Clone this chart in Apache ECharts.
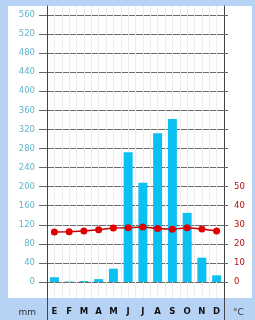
<!DOCTYPE html>
<html>
<head>
<meta charset="utf-8">
<script src="https://cdn.jsdelivr.net/npm/echarts@6/dist/echarts.min.js"></script>
<style>
  html, body { margin: 0; padding: 0; }
  body { width: 255px; height: 320px; background: #b6d3f5; position: relative; overflow: hidden; }
  #paper { position: absolute; left: 8px; top: 6px; width: 244px; height: 292px; background: #fff; }
  #main { position: absolute; left: 0; top: 0; width: 255px; height: 320px; }
</style>
</head>
<body>
<div id="paper"></div>
<div id="main"></div>
<script>
// climograma: precipitacion (mm) y temperatura (°C)
var months = ['E', 'F', 'M', 'A', 'M', 'J', 'J', 'A', 'S', 'O', 'N', 'D'];
var rain = [10, 1, 2, 6, 28, 272, 208, 312, 342, 145, 51, 14];
var temp = [26.2, 26.4, 26.7, 27.4, 28.3, 28.5, 28.8, 28.0, 27.6, 28.5, 27.8, 26.7];

var rainMax = 560, rainStep = 40;
var tempMax = 140, tempStep = 10, tempShown = 50;

var font = 'DejaVu Sans, Verdana, sans-serif';

var myChart = echarts.init(document.getElementById('main'), null, { renderer: 'canvas' });

var option = {
    backgroundColor: 'transparent',
    animation: false,
    grid: [
        // grafico principal
        { left: 47, right: 31, top: 15, bottom: 38 },
        // rayado vertical fino
        { left: 47, right: 31, top: 6, bottom: 22 },
        // ejes verticales largos
        { left: 47, right: 31, top: 6, bottom: 0 }
    ],
    xAxis: [
        {
            type: 'category',
            gridIndex: 0,
            data: months,
            axisLine: { show: false },
            axisTick: { show: false },
            axisLabel: {
                margin: 25,
                color: '#111',
                fontWeight: 'bold',
                fontSize: 8.5,
                fontFamily: font,
                interval: 0
            },
            splitLine: { show: false }
        },
        {
            type: 'value',
            gridIndex: 1,
            min: 0,
            max: 24,
            interval: 1,
            axisLine: { show: false },
            axisTick: { show: false },
            axisLabel: { show: false },
            splitLine: { show: true, lineStyle: { color: '#ededed', width: 1 } }
        },
        {
            type: 'value',
            gridIndex: 2,
            show: false
        }
    ],
    yAxis: [
        {
            type: 'value',
            gridIndex: 0,
            position: 'left',
            min: 0,
            max: rainMax,
            interval: rainStep,
            name: 'mm',
            nameLocation: 'start',
            nameGap: 26,
            nameTextStyle: { color: '#333', fontSize: 9, fontFamily: font, align: 'right', padding: [0, 11, 0, 0] },
            axisLine: { show: false },
            axisTick: { show: true, length: 8, lineStyle: { color: '#666' } },
            axisLabel: { margin: 12, color: '#62b6cc', fontSize: 8.5, fontFamily: font },
            splitLine: { show: true, lineStyle: { color: '#6a6a6a', width: 1 } }
        },
        {
            type: 'value',
            gridIndex: 0,
            position: 'right',
            min: 0,
            max: tempMax,
            interval: tempStep,
            name: '°C',
            nameLocation: 'start',
            nameGap: 26,
            nameTextStyle: { color: '#333', fontSize: 9, fontFamily: font, align: 'left', padding: [0, 0, 0, 9] },
            axisLine: { show: false },
            axisTick: { show: true, length: 4, lineStyle: { color: '#666' } },
            axisLabel: {
                margin: 10,
                color: '#b01010',
                fontSize: 8.5,
                fontFamily: font,
                formatter: function (v) { return v <= tempShown ? String(v) : ''; }
            },
            splitLine: { show: false }
        },
        {
            type: 'value',
            gridIndex: 1,
            show: false
        },
        {
            type: 'value',
            gridIndex: 2,
            position: 'left',
            axisLine: { show: true, lineStyle: { color: '#444', width: 1 } },
            axisTick: { show: false },
            axisLabel: { show: false },
            splitLine: { show: false }
        },
        {
            type: 'value',
            gridIndex: 2,
            position: 'right',
            axisLine: { show: true, lineStyle: { color: '#444', width: 1 } },
            axisTick: { show: false },
            axisLabel: { show: false },
            splitLine: { show: false }
        }
    ],
    series: [
        {
            name: 'mm',
            type: 'bar',
            xAxisIndex: 0,
            yAxisIndex: 0,
            data: rain,
            barWidth: 9,
            itemStyle: { color: '#0bc0f2' }
        },
        {
            name: '°C',
            type: 'line',
            xAxisIndex: 0,
            yAxisIndex: 1,
            data: temp,
            symbol: 'circle',
            symbolSize: 7,
            itemStyle: { color: '#e00000' },
            lineStyle: { color: '#c40000', width: 1.5 },
            z: 5
        }
    ]
};

myChart.setOption(option);
</script>
</body>
</html>
